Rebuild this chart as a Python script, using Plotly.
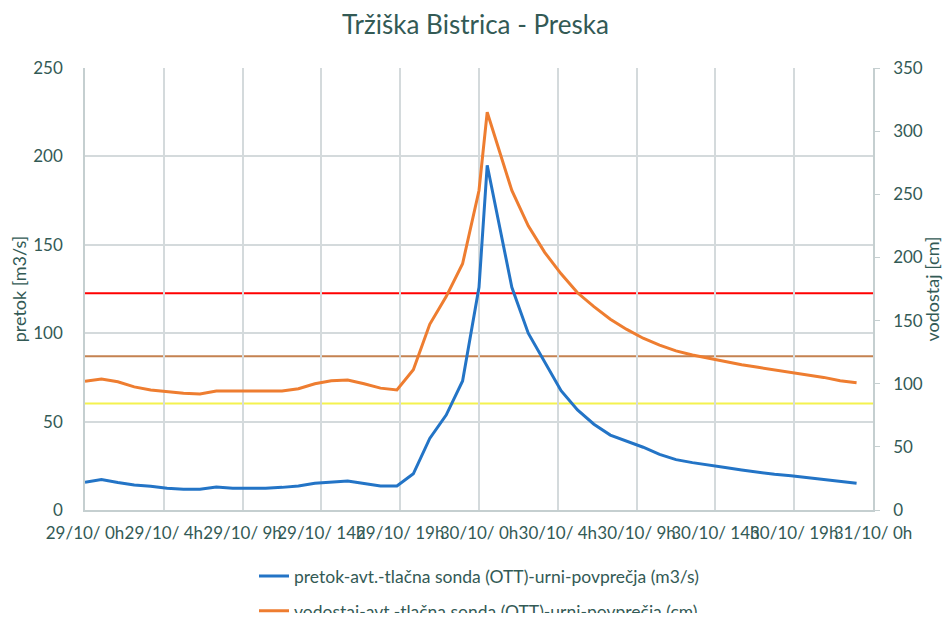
import plotly.graph_objects as go

# hours since 29/10 0h
hours = [0, 1, 2, 3, 4, 5, 6, 7, 8, 9, 10, 11, 12, 13, 14, 15, 16, 17, 18, 19, 20, 21, 22, 23, 24, 24.5,
         26, 27, 28, 29, 30, 31, 32, 33, 34, 35, 36, 37, 38, 39, 40, 41, 42, 43, 44, 45, 46, 47]

pretok = [15.7, 17.2, 15.5, 14.1, 13.4, 12.3, 11.8, 11.8, 13.0, 12.3, 12.3, 12.3, 12.8, 13.6, 15.1, 15.8,
          16.4, 15.0, 13.6, 13.6, 20.5, 40.5, 53.7, 73.0, 126.0, 195.0,
          126.0, 100.0, 84.0, 67.5, 56.6, 48.5, 42.4, 39.0, 35.5, 31.5, 28.5, 26.8, 25.2, 24.0, 22.6, 21.2,
          20.2, 19.4, 18.3, 17.0, 16.0, 15.1]

vodostaj = [102, 103.7, 101.5, 97.5, 95, 93.5, 92.5, 91.8, 94.2, 94.2, 94.2, 94.2, 94.2, 96, 100, 102.3,
            103, 100, 96.5, 95, 111, 147, 169, 195, 253, 315,
            253, 225, 204, 187, 172, 161, 151, 143, 136, 130.6, 126, 122.7, 120, 117.5, 115, 113,
            111, 108.7, 106.5, 105, 102.4, 100.8]

tick_hours = [0, 4.8, 9.6, 14.4, 19.2, 24, 28.8, 33.6, 38.4, 43.2, 48]
tick_labels = ["29/10/ 0h", "29/10/ 4h", "29/10/ 9h", "29/10/ 14h", "29/10/ 19h", "30/10/ 0h",
               "30/10/ 4h", "30/10/ 9h", "30/10/ 14h", "30/10/ 19h", "31/10/ 0h"]

# threshold levels (left axis, m3/s)
threshold_values = [122.6, 87.0, 60.3]
threshold_colors = ["#FF0000", "#C48251", "#F4F24E"]

text_color = "#335A55"
grid_color = "#D4DADC"
font_family = "Lato, 'Open Sans', sans-serif"

fig = go.Figure()

fig.add_trace(go.Scatter(
    x=hours, y=pretok, mode="lines", name="pretok-avt.-tlačna sonda (OTT)-urni-povprečja (m3/s)",
    line=dict(color="#2374C6", width=3), yaxis="y", legendgroup="a"))
fig.add_trace(go.Scatter(
    x=hours, y=vodostaj, mode="lines", name="vodostaj-avt.-tlačna sonda (OTT)-urni-povprečja (cm)",
    line=dict(color="#EE7D30", width=3), yaxis="y2", legendgroup="b"))

for v, c in zip(threshold_values, threshold_colors):
    fig.add_shape(type="line", xref="x", yref="y", x0=0, x1=48, y0=v, y1=v,
                  line=dict(color=c, width=2), layer="below")

fig.update_layout(
    width=935, height=605,
    margin=dict(l=77, r=70, t=60, b=103, autoexpand=False),
    paper_bgcolor="white", plot_bgcolor="white",
    font=dict(family=font_family, color=text_color, size=17),
    title=dict(text="Tržiška Bistrica - Preska", x=0.5, xanchor="center", y=0.972, yanchor="middle",
               font=dict(size=26, color=text_color, family=font_family)),
    xaxis=dict(range=[0, 48], tickmode="array", tickvals=tick_hours, ticktext=tick_labels,
               showgrid=True, gridcolor=grid_color, gridwidth=1.5, showline=True, linecolor="#C5CFD0",
               linewidth=1.5, zeroline=False, tickfont=dict(size=17), ticks="", tickangle=0,
               automargin=False, ticklabelstandoff=7),
    yaxis=dict(range=[0, 250], dtick=50, showgrid=True, gridcolor=grid_color, gridwidth=1.5,
               showline=True, linecolor="#C5CFD0", linewidth=1.5, zeroline=False,
               title=dict(text="pretok [m3/s]", font=dict(size=18), standoff=14),
               tickfont=dict(size=17), ticks="", automargin=False, ticklabelstandoff=17),
    yaxis2=dict(range=[0, 350], dtick=50, overlaying="y", side="right", showgrid=False,
                showline=True, linecolor="#C5CFD0", linewidth=1.5, zeroline=False,
                ticks="outside", ticklen=5, tickcolor="#C5CFD0",
                title=dict(text="vodostaj [cm]", font=dict(size=18), standoff=10),
                tickfont=dict(size=17), automargin=False, ticklabelstandoff=10),
    legend=dict(orientation="v", x=0.5, xanchor="center", y=-0.109, yanchor="top",
                font=dict(size=17.5, color=text_color), traceorder="grouped", tracegroupgap=9,
                bgcolor="rgba(0,0,0,0)"),
    showlegend=True,
)

fig.write_html("out.html")
